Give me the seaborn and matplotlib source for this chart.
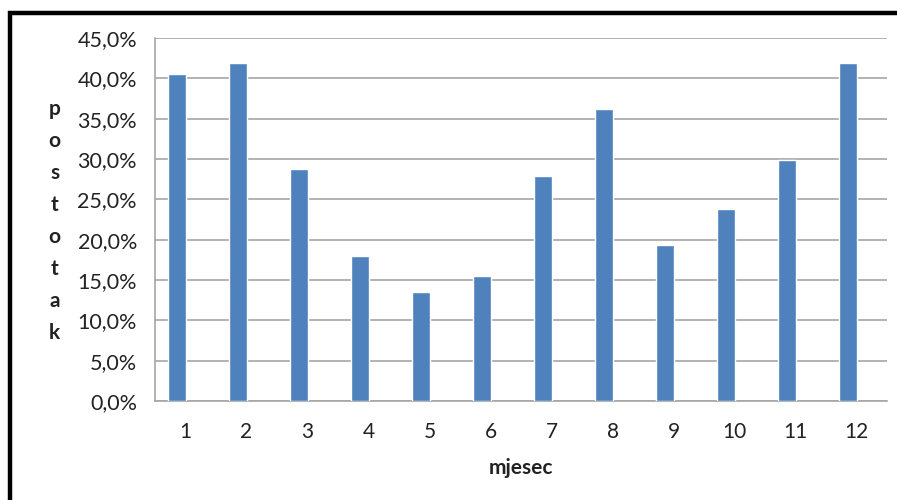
import matplotlib
matplotlib.use('Agg')
import matplotlib.pyplot as plt
import matplotlib.ticker as mticker
from matplotlib.patches import Rectangle
import pandas as pd
import seaborn as sns

# monthly share (%)
months = ['1', '2', '3', '4', '5', '6', '7', '8', '9', '10', '11', '12']
postotak = [40.5, 41.9, 28.8, 18.0, 13.5, 15.5, 27.9, 36.2, 19.3, 23.8, 29.9, 41.9]
y_ticks = [0, 5, 10, 15, 20, 25, 30, 35, 40, 45]
# the Excel chart has an empty second series, so the bars sit left of centre
series = ['postotak', 'prazno']

df = pd.DataFrame({'mjesec': months, 'postotak': postotak, 'serija': series[0]})

sns.set_style('white')
plt.rcParams['font.family'] = ['Lato', 'DejaVu Sans']

fig = plt.figure(figsize=(8.97, 5.0), dpi=100)
ax = fig.add_axes([0.1728, 0.198, 0.8161, 0.726])

sns.barplot(data=df, x='mjesec', y='postotak', hue='serija', hue_order=series,
            palette=['#4F81BD', '#C0504D'], width=0.56, dodge=True,
            saturation=1, legend=False, ax=ax, zorder=3)

grid_c = '#A6A6A6'
txt_c = '#222222'
ax.set_ylim(0, 45)
ax.set_xlim(-0.5, len(months) - 0.5)
ax.set_yticks(y_ticks)
ax.yaxis.set_major_formatter(mticker.FuncFormatter(lambda v, p: f'{v:.1f}%'.replace('.', ',')))
ax.yaxis.grid(True, color=grid_c, linewidth=1.2, zorder=0)
ax.set_axisbelow(True)

for s in ['top', 'right']:
    ax.spines[s].set_visible(False)
for s in ['left', 'bottom']:
    ax.spines[s].set_color(grid_c)
    ax.spines[s].set_linewidth(1.2)

ax.tick_params(axis='y', length=5, width=1.2, color=grid_c, labelsize=15.5, pad=8, labelcolor=txt_c)
ax.tick_params(axis='x', which='major', length=0, labelsize=15, pad=15, labelcolor=txt_c)
ax.set_xticks([i + 0.5 for i in range(-1, len(months))], minor=True)
ax.tick_params(axis='x', which='minor', length=7, width=1.2, color=grid_c)

ax.set_xlabel('mjesec', fontsize=15, fontweight='bold', labelpad=12, color=txt_c)
ax.set_ylabel('\n'.join('postotak'), rotation=0, fontsize=15, fontweight='bold',
              linespacing=1.75, va='center', ha='center', color=txt_c)
ax.yaxis.set_label_coords(-0.137, 0.497)

# frame around the chart (cropped on right and bottom)
fig.patches.append(Rectangle((10 / 897, -0.2), 1.2, 1.2 - 13 / 500,
                             transform=fig.transFigure, fill=False,
                             edgecolor='black', linewidth=3.2))

fig.savefig('out.png', dpi=100)
